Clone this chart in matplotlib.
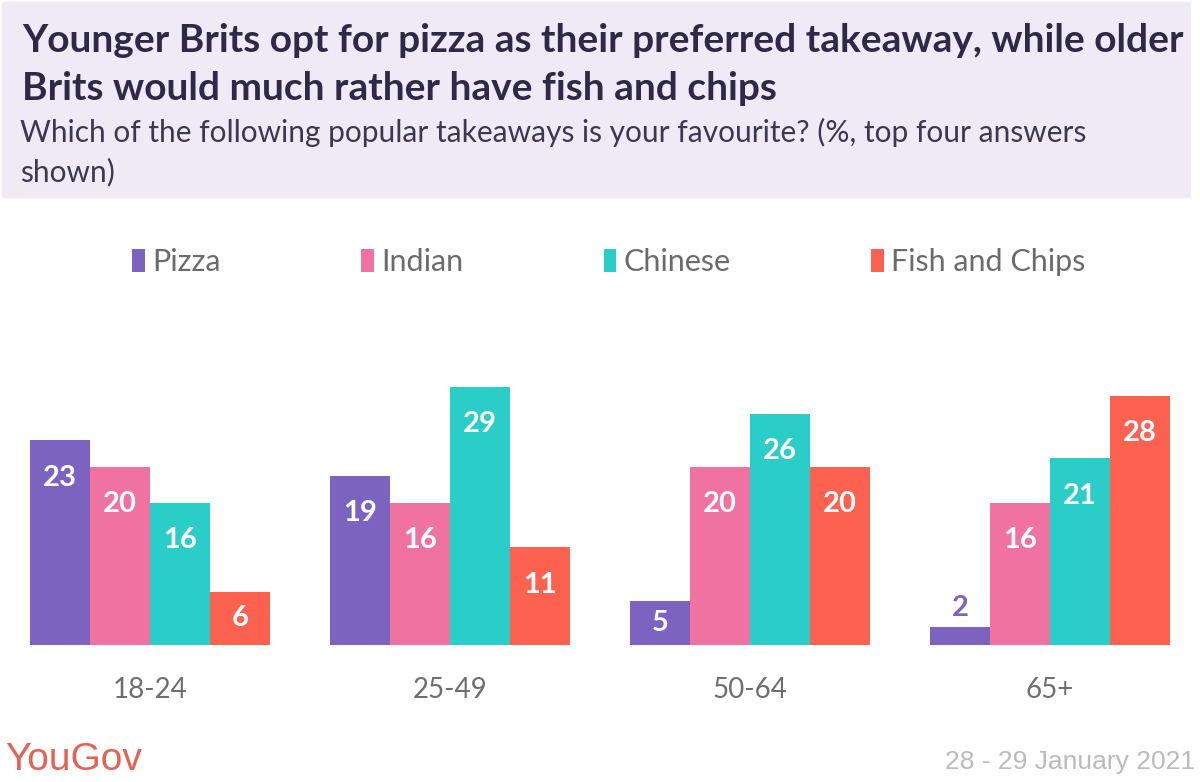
import numpy as np
import matplotlib.pyplot as plt
from matplotlib.patches import Rectangle

plt.rcParams['font.family'] = ['Lato', 'DejaVu Sans']

age_groups = ['18-24', '25-49', '50-64', '65+']
takeaways = ['Pizza', 'Indian', 'Chinese', 'Fish and Chips']
pizza = [23, 19, 5, 2]
indian = [20, 16, 20, 16]
chinese = [16, 29, 26, 21]
fish_chips = [6, 11, 20, 28]

colors = ['#7B63BF', '#F072A0', '#2BCDC8', '#FD6150']
title_lines = ['Younger Brits opt for pizza as their preferred takeaway, while older',
               'Brits would much rather have fish and chips']
subtitle_lines = ['Which of the following popular takeaways is your favourite? (%, top four answers',
                  'shown)']

fig = plt.figure(figsize=(12, 7.82), dpi=100)

# header band
fig.patches.append(Rectangle((0.002, 1 - 197 / 782), 0.99, 195 / 782,
                             transform=fig.transFigure, color='#EEEBF6', zorder=0))
for k, line in enumerate(title_lines):
    fig.text(22 / 1200, 1 - (40 + 48 * k) / 782, line, fontsize=28, fontweight='bold',
             color='#2D2946', va='center', ha='left')
for k, line in enumerate(subtitle_lines):
    fig.text(20 / 1200, 1 - (132 + 40 * k) / 782, line, fontsize=21.5, color='#3B3850',
             va='center', ha='left')

ax = fig.add_axes([0, 1 - 645 / 782, 1, (645 - 387) / 782])
x = np.arange(len(age_groups))
w = 0.2
series = [pizza, indian, chinese, fish_chips]
for i, (vals, c, name) in enumerate(zip(series, colors, takeaways)):
    xs = x + (i - 1.5) * w
    ax.bar(xs, vals, width=w, color=c, label=name, zorder=2)
    for xx, v in zip(xs, vals):
        if v >= 4:
            ax.text(xx, max(v - 4.2, v / 2), str(v), ha='center', va='center',
                    color='white', fontsize=21, fontweight='bold')
        else:
            ax.annotate(str(v), (xx, v), xytext=(0, 14), textcoords='offset points',
                        ha='center', va='center', color=c, fontsize=21, fontweight='bold')

ax.set_xlim(-0.5, 3.5)
ax.set_ylim(0, 29)
ax.set_xticks(x)
ax.set_xticklabels(age_groups, fontsize=20, color='#6E6E6E')
ax.tick_params(axis='x', length=0, pad=23)
ax.set_yticks([])
for s in ax.spines.values():
    s.set_visible(False)
ax.patch.set_alpha(0)

leg = ax.legend(loc='center', bbox_to_anchor=(609 / 1200, 1 - 262 / 782), bbox_transform=fig.transFigure,
                ncol=4, frameon=False, fontsize=22, handlelength=0.4, handleheight=0.8,
                handletextpad=0.25, columnspacing=4.6, labelcolor='#6B6B6B')

fig.text(5 / 1200, 1 - 760 / 782, 'YouGov', fontsize=28, color='#E8604F',
         family=['Liberation Sans Narrow', 'Liberation Sans'], va='center', ha='left')
fig.text(1195 / 1200, 1 - 762 / 782, '28 - 29 January 2021', fontsize=19, color='#BBBBBB',
         family=['Liberation Sans Narrow', 'Liberation Sans'], va='center', ha='right')

fig.savefig('out.png', dpi=100)
